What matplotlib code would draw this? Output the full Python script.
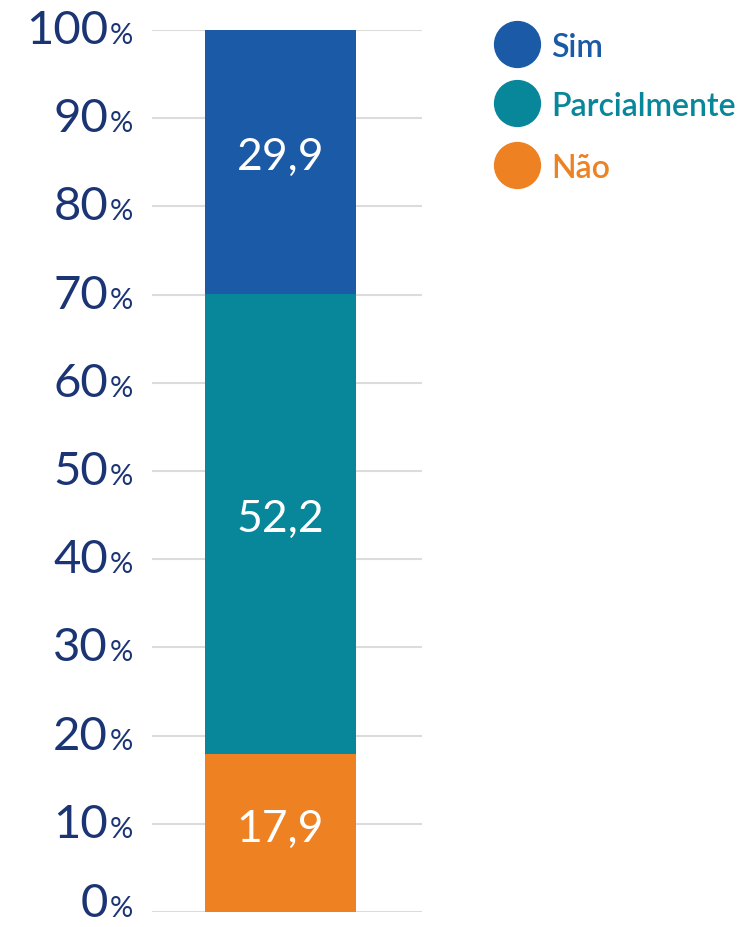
import numpy as np
import matplotlib
matplotlib.use('Agg')
from matplotlib import pyplot as plt
from matplotlib.lines import Line2D

# ---------------------------------------------------------
categories = ['Não', 'Parcialmente', 'Sim']   # bottom -> top
values = [17.9, 52.2, 29.9]
value_labels = ['17,9', '52,2', '29,9']
colors = ['#ee8121', '#09879a', '#1a5aa6']
ticks = list(range(0, 101, 10))

navy = '#1b3574'
plt.rcParams['font.family'] = ['Lato', 'DejaVu Sans']

# ---------------------------------------------------------
W, H, DPI = 738, 928, 100
px = 72. / DPI  # pixels -> points
fig = plt.figure(figsize=(W / DPI, H / DPI), dpi=DPI)
ax = fig.add_axes([152 / W, 1 - 913 / H, 270 / W, 882 / H])
ax.set_xlim(0, 1); ax.set_ylim(0, 100)

# stacked bar
bottom = 0.
for val, lab, col in zip(values, value_labels, colors):
    ax.bar(0.476, val, width=0.559, bottom=bottom, color=col, zorder=3)
    ax.annotate(lab, xy=(0.476, bottom + val / 2), xytext=(0, 5 * px),
                textcoords='offset points', ha='center', va='center',
                color='white', fontsize=32, zorder=4)
    bottom += val

# gridlines
for t in ticks:
    ax.axhline(t, color='#dcdcdc', linewidth=1.5, zorder=1)

# tick labels: big number + small percent sign
ax.set_yticks([]); ax.set_xticks([])
for s in ax.spines.values():
    s.set_visible(False)
for t in ticks:
    dy = -13 * px if t > 0 else -4 * px  # keep the bottom label inside
    ax.annotate(str(t), xy=(0, t), xycoords=('axes fraction', 'data'),
                xytext=(-44 * px, dy), textcoords='offset points',
                ha='right', va='baseline', fontsize=34, color=navy)
    ax.annotate('%', xy=(0, t), xycoords=('axes fraction', 'data'),
                xytext=(-42 * px, dy), textcoords='offset points',
                ha='left', va='baseline', fontsize=21, color=navy)

# legend (manual, top to bottom)
leg_y = [45, 104, 166]
for (cat, col), y in zip(list(zip(categories, colors))[::-1], leg_y):
    fig.add_artist(Line2D([517 / W], [1 - y / H], marker='o', markersize=33,
                          color=col, linestyle='none',
                          transform=fig.transFigure))
    fig.text(551 / W, 1 - y / H, cat, ha='left', va='center_baseline',
             fontsize=23, fontweight='semibold', color=col)

fig.savefig('out.png', dpi=DPI)
